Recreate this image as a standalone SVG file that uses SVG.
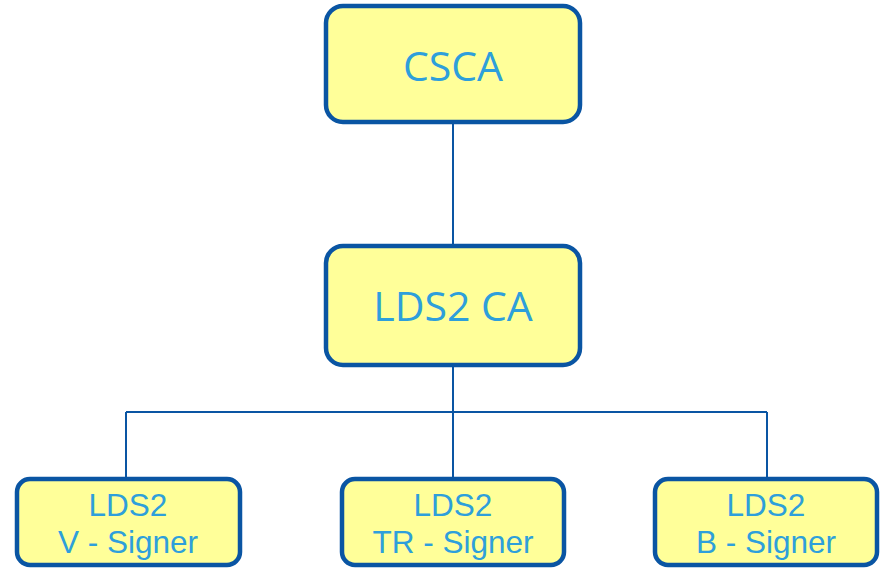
<svg xmlns="http://www.w3.org/2000/svg" width="880" height="568" viewBox="0 0 880 568">
<style>
.box{fill:#FFFF99;stroke:#0A55A3;stroke-width:4.5}
.big{font-family:"Open Sans","Noto Sans",sans-serif;font-size:41px;fill:#2E9FDB;text-anchor:middle}
.sm{font-family:"Liberation Sans",Arial,sans-serif;font-size:31.5px;fill:#2E9FDB;text-anchor:middle}
.ln{stroke:#0A55A3;stroke-width:2;fill:none}
</style>
<rect width="880" height="568" fill="#fff"/>
<g id="connectors">
<path class="ln" d="M453 124V246"/>
<path class="ln" d="M453 366V478"/>
<path class="ln" d="M126 412H767"/>
<path class="ln" d="M126 412V478"/>
<path class="ln" d="M767 412V478"/>
</g>
<g id="csca">
<rect class="box" x="326" y="6" width="254" height="116" rx="17"/>
<text class="big" x="453" y="81">CSCA</text>
</g>
<g id="lds2ca">
<rect class="box" x="326" y="246" width="254" height="119" rx="17"/>
<text class="big" x="453" y="321">LDS2 CA</text>
</g>
<g id="v-signer">
<rect class="box" x="17" y="479" width="223" height="86" rx="13"/>
<text class="sm" x="128" y="516">LDS2</text>
<text class="sm" x="128" y="553">V - Signer</text>
</g>
<g id="tr-signer">
<rect class="box" x="342" y="479" width="222" height="86" rx="13"/>
<text class="sm" x="453" y="516">LDS2</text>
<text class="sm" x="453" y="553">TR - Signer</text>
</g>
<g id="b-signer">
<rect class="box" x="655" y="479" width="222" height="86" rx="13"/>
<text class="sm" x="766" y="516">LDS2</text>
<text class="sm" x="766" y="553">B - Signer</text>
</g>
</svg>
